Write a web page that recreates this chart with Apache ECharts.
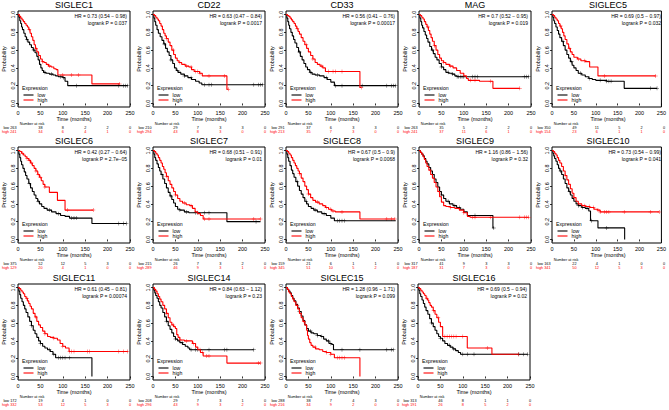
<!DOCTYPE html>
<html><head><meta charset="utf-8">
<script src="https://cdn.jsdelivr.net/npm/echarts@6/dist/echarts.min.js"></script>
<style>html,body{margin:0;padding:0;background:#fff}#c{width:669px;height:410px}</style>
</head><body><div id="c"></div>
<script>
const panelNames = ['SIGLEC1','CD22','CD33','MAG','SIGLEC5','SIGLEC6','SIGLEC7','SIGLEC8','SIGLEC9','SIGLEC10','SIGLEC11','SIGLEC14','SIGLEC15','SIGLEC16'];
const hrTexts = ['HR = 0.73 (0.54 − 0.98)','HR = 0.63 (0.47 − 0.84)','HR = 0.56 (0.41 − 0.76)','HR = 0.7 (0.52 − 0.95)','HR = 0.69 (0.5 − 0.97)','HR = 0.42 (0.27 − 0.64)','HR = 0.68 (0.51 − 0.91)','HR = 0.67 (0.5 − 0.9)','HR = 1.16 (0.86 − 1.56)','HR = 0.73 (0.54 − 0.99)','HR = 0.61 (0.45 − 0.81)','HR = 0.84 (0.63 − 1.12)','HR = 1.28 (0.96 − 1.71)','HR = 0.69 (0.5 − 0.94)'];
const pTexts = ['logrank P = 0.037','logrank P = 0.0017','logrank P = 0.00017','logrank P = 0.019','logrank P = 0.032','logrank P = 2.7e−05','logrank P = 0.01','logrank P = 0.0068','logrank P = 0.32','logrank P = 0.041','logrank P = 0.00074','logrank P = 0.23','logrank P = 0.099','logrank P = 0.02'];
const xTicks = [0,50,100,150,200,250];
const yTicks = [0,0.2,0.4,0.6,0.8,1.0];
const riskTimes = [0,50,100,150,200,250];
const lowAtRisk = [[263,38,8,2,2,0],[210,29,7,3,3,0],[291,37,6,3,3,0],[263,35,5,2,2,0],[350,49,11,5,2,0],[375,52,12,5,3,0],[215,26,7,3,2,0],[159,21,6,1,1,0],[317,41,9,3,3,0],[163,22,4,1,0,0],[172,19,4,1,0,0],[208,29,7,3,1,0],[288,38,7,4,3,0],[313,46,8,1,1,0]];
const highAtRisk = [[241,34,6,4,1,0],[294,43,8,3,0,0],[213,35,7,3,0,0],[241,37,11,6,1,0],[154,23,6,1,1,0],[129,20,4,1,0,0],[289,46,9,3,1,0],[345,51,10,5,2,0],[187,31,7,3,0,0],[341,50,12,5,3,0],[332,53,12,5,3,0],[296,43,9,3,2,0],[216,34,9,2,0,0],[191,26,8,5,2,0]];

const lowCurves = [
[[0,1],[2,0.97],[4,0.93],[6,0.9],[8,0.86],[10,0.83],[13,0.79],[16,0.75],[19,0.72],[22,0.69],[26,0.66],[30,0.63],[34,0.6],[38,0.57],[42,0.53],[45,0.49],[48,0.44],[51,0.4],[54,0.37],[57,0.35],[62,0.34],[70,0.33],[78,0.32],[84,0.31],[90,0.3],[100,0.29],[105,0.25],[111,0.2],[245,0.2]],
[[0,1],[2,0.96],[4,0.92],[6,0.88],[9,0.83],[12,0.79],[16,0.75],[20,0.71],[24,0.67],[28,0.62],[32,0.58],[36,0.54],[40,0.49],[44,0.45],[48,0.4],[52,0.37],[56,0.35],[62,0.33],[70,0.31],[78,0.29],[86,0.27],[95,0.25],[103,0.23],[109,0.21],[245,0.21]],
[[0,1],[2,0.96],[4,0.92],[6,0.88],[8,0.84],[11,0.8],[14,0.76],[17,0.72],[20,0.68],[24,0.63],[28,0.58],[32,0.53],[36,0.49],[40,0.45],[44,0.41],[48,0.38],[53,0.35],[58,0.33],[65,0.32],[75,0.31],[85,0.29],[92,0.27],[100,0.24],[108,0.2],[245,0.2]],
[[0,1],[2,0.96],[4,0.92],[6,0.88],[8,0.85],[11,0.81],[14,0.77],[17,0.73],[20,0.69],[24,0.64],[28,0.6],[32,0.56],[36,0.52],[40,0.49],[45,0.45],[50,0.41],[55,0.38],[60,0.35],[66,0.34],[74,0.33],[80,0.31],[85,0.3],[245,0.3]],
[[0,1],[2,0.97],[4,0.93],[6,0.9],[9,0.86],[12,0.82],[15,0.78],[18,0.74],[22,0.7],[26,0.65],[30,0.6],[34,0.55],[38,0.51],[42,0.47],[46,0.43],[50,0.4],[55,0.37],[60,0.34],[68,0.32],[76,0.3],[84,0.28],[92,0.27],[100,0.26],[125,0.25],[165,0.17],[240,0.17]],
[[0,1],[2,0.96],[4,0.92],[6,0.88],[8,0.84],[11,0.8],[14,0.76],[17,0.72],[20,0.68],[24,0.63],[28,0.58],[32,0.54],[36,0.5],[40,0.46],[44,0.43],[48,0.4],[53,0.37],[58,0.35],[65,0.33],[75,0.31],[85,0.29],[95,0.27],[105,0.26],[115,0.24],[165,0.18],[242,0.18]],
[[0,1],[2,0.96],[4,0.92],[6,0.89],[9,0.85],[12,0.81],[15,0.77],[18,0.73],[22,0.68],[26,0.63],[30,0.58],[34,0.53],[38,0.49],[42,0.45],[46,0.41],[50,0.37],[55,0.34],[60,0.33],[70,0.31],[80,0.3],[165,0.2],[240,0.2]],
[[0,1],[2,0.96],[4,0.92],[6,0.88],[9,0.83],[12,0.78],[15,0.74],[18,0.7],[22,0.65],[26,0.6],[30,0.55],[34,0.51],[38,0.47],[42,0.43],[46,0.4],[50,0.37],[56,0.35],[62,0.33],[70,0.31],[80,0.29],[90,0.27],[100,0.24],[108,0.21],[245,0.21]],
[[0,1],[3,0.98],[6,0.96],[9,0.94],[12,0.91],[15,0.88],[18,0.85],[22,0.81],[26,0.77],[30,0.73],[34,0.68],[38,0.64],[42,0.59],[46,0.54],[50,0.5],[55,0.46],[60,0.43],[68,0.4],[76,0.38],[84,0.36],[92,0.34],[100,0.31],[108,0.27],[165,0.13],[167,0.13]],
[[0,1],[2,0.97],[4,0.94],[6,0.91],[9,0.88],[12,0.84],[15,0.8],[18,0.77],[22,0.73],[26,0.68],[30,0.63],[34,0.58],[38,0.54],[42,0.5],[46,0.46],[50,0.43],[55,0.4],[60,0.38],[68,0.36],[76,0.35],[84,0.32],[88,0.21],[105,0.13],[166,0]],
[[0,1],[2,0.96],[4,0.92],[6,0.88],[9,0.84],[12,0.8],[15,0.76],[18,0.72],[22,0.67],[26,0.62],[30,0.57],[34,0.52],[38,0.48],[42,0.44],[46,0.4],[50,0.37],[55,0.34],[60,0.32],[66,0.3],[72,0.28],[78,0.25],[84,0.21],[165,0]],
[[0,1],[2,0.97],[4,0.94],[6,0.91],[9,0.88],[12,0.84],[15,0.8],[18,0.77],[22,0.72],[26,0.67],[30,0.62],[34,0.57],[38,0.53],[42,0.49],[46,0.45],[50,0.42],[55,0.4],[60,0.38],[66,0.36],[72,0.34],[78,0.32],[82,0.3],[225,0.3]],
[[0,1],[3,0.98],[6,0.96],[9,0.94],[12,0.91],[15,0.88],[18,0.85],[22,0.81],[26,0.77],[30,0.73],[34,0.68],[38,0.63],[42,0.58],[46,0.54],[50,0.51],[56,0.49],[62,0.48],[70,0.46],[78,0.45],[84,0.42],[90,0.4],[96,0.37],[102,0.36],[106,0.3],[240,0.3]],
[[0,1],[2,0.97],[4,0.93],[6,0.9],[9,0.86],[12,0.82],[15,0.78],[18,0.74],[22,0.7],[26,0.65],[30,0.6],[34,0.56],[38,0.52],[42,0.48],[46,0.45],[50,0.43],[55,0.4],[60,0.37],[66,0.35],[72,0.33],[78,0.31],[84,0.29],[90,0.27],[95,0.25],[245,0.25]]
];
const highCurves = [
[[0,1],[3,0.98],[6,0.96],[9,0.94],[12,0.92],[15,0.9],[18,0.88],[21,0.86],[24,0.83],[27,0.79],[30,0.75],[33,0.71],[36,0.66],[39,0.62],[42,0.58],[46,0.54],[50,0.5],[54,0.47],[58,0.46],[63,0.44],[68,0.42],[74,0.41],[80,0.39],[85,0.38],[89,0.32],[165,0.22],[227,0.22]],
[[0,1],[3,0.99],[6,0.97],[9,0.95],[12,0.93],[15,0.9],[18,0.87],[21,0.83],[24,0.79],[27,0.76],[30,0.73],[34,0.69],[38,0.65],[42,0.6],[46,0.55],[50,0.51],[54,0.48],[58,0.46],[64,0.44],[72,0.42],[80,0.41],[86,0.38],[92,0.36],[104,0.34],[110,0.31],[165,0.16],[168,0.16]],
[[0,1],[3,0.99],[6,0.98],[9,0.96],[12,0.94],[15,0.92],[18,0.9],[21,0.87],[24,0.84],[27,0.81],[30,0.78],[34,0.74],[38,0.7],[42,0.66],[46,0.62],[50,0.58],[55,0.54],[60,0.5],[65,0.46],[70,0.44],[76,0.42],[82,0.4],[88,0.36],[165,0.18],[168,0.18]],
[[0,1],[3,0.99],[6,0.97],[9,0.95],[12,0.92],[15,0.89],[18,0.86],[21,0.82],[24,0.78],[27,0.74],[30,0.7],[34,0.65],[38,0.6],[42,0.55],[46,0.51],[50,0.48],[55,0.46],[60,0.44],[68,0.42],[76,0.4],[84,0.37],[92,0.34],[100,0.31],[106,0.28],[110,0.26],[135,0.25],[165,0.17],[225,0.17]],
[[0,1],[3,0.99],[6,0.97],[9,0.95],[12,0.93],[15,0.9],[18,0.87],[21,0.84],[24,0.8],[27,0.76],[30,0.72],[34,0.67],[38,0.62],[42,0.58],[46,0.55],[50,0.52],[58,0.5],[66,0.48],[76,0.47],[86,0.41],[105,0.31],[237,0.31]],
[[0,1],[4,0.99],[8,0.97],[12,0.95],[16,0.93],[20,0.91],[24,0.89],[28,0.86],[32,0.83],[36,0.8],[40,0.77],[44,0.73],[48,0.7],[52,0.66],[56,0.62],[60,0.59],[70,0.53],[88,0.44],[105,0.33],[168,0.33]],
[[0,1],[3,0.99],[6,0.97],[9,0.95],[12,0.92],[15,0.89],[18,0.86],[21,0.82],[24,0.79],[27,0.75],[30,0.71],[34,0.66],[38,0.62],[42,0.58],[46,0.54],[50,0.5],[55,0.46],[60,0.43],[66,0.41],[74,0.39],[82,0.38],[88,0.35],[94,0.31],[100,0.29],[106,0.27],[112,0.23],[240,0.23]],
[[0,1],[3,0.99],[6,0.97],[9,0.95],[12,0.92],[15,0.89],[18,0.86],[21,0.83],[24,0.8],[27,0.77],[30,0.74],[34,0.69],[38,0.65],[42,0.6],[46,0.56],[50,0.51],[55,0.47],[60,0.44],[66,0.42],[74,0.4],[82,0.38],[88,0.36],[95,0.34],[102,0.32],[110,0.31],[165,0.23],[243,0.23]],
[[0,1],[3,0.98],[6,0.96],[9,0.93],[12,0.9],[15,0.86],[18,0.82],[22,0.78],[26,0.73],[30,0.69],[34,0.64],[38,0.59],[42,0.54],[46,0.48],[50,0.42],[55,0.38],[60,0.37],[70,0.36],[80,0.35],[90,0.33],[100,0.3],[108,0.26],[114,0.25],[245,0.25]],
[[0,1],[3,0.99],[6,0.97],[9,0.95],[12,0.92],[15,0.89],[18,0.86],[22,0.82],[26,0.77],[30,0.72],[34,0.67],[38,0.62],[42,0.57],[46,0.52],[50,0.47],[55,0.43],[60,0.4],[68,0.38],[76,0.37],[86,0.36],[96,0.34],[104,0.33],[110,0.31],[245,0.31]],
[[0,1],[3,0.99],[6,0.97],[9,0.95],[12,0.93],[15,0.9],[18,0.88],[21,0.85],[24,0.82],[27,0.79],[30,0.76],[34,0.71],[38,0.67],[42,0.62],[46,0.58],[50,0.55],[55,0.51],[60,0.48],[66,0.45],[72,0.44],[80,0.43],[88,0.41],[94,0.37],[100,0.34],[106,0.32],[114,0.28],[245,0.28]],
[[0,1],[3,0.98],[6,0.96],[9,0.93],[12,0.9],[15,0.87],[18,0.84],[22,0.8],[26,0.76],[30,0.71],[34,0.66],[38,0.61],[42,0.58],[46,0.56],[50,0.54],[53,0.47],[56,0.44],[60,0.41],[70,0.4],[80,0.4],[88,0.37],[95,0.33],[100,0.3],[106,0.27],[112,0.23],[165,0.15],[240,0.15]],
[[0,1],[3,0.98],[6,0.95],[9,0.93],[12,0.9],[15,0.87],[18,0.84],[22,0.8],[26,0.76],[30,0.71],[34,0.66],[38,0.62],[42,0.58],[46,0.52],[48,0.46],[50,0.42],[53,0.38],[56,0.35],[60,0.33],[66,0.31],[74,0.3],[82,0.28],[90,0.27],[100,0.25],[108,0.21],[165,0]],
[[0,1],[3,0.99],[6,0.97],[9,0.95],[12,0.93],[15,0.91],[18,0.88],[21,0.86],[24,0.83],[27,0.8],[30,0.78],[34,0.74],[38,0.7],[42,0.66],[46,0.61],[50,0.56],[55,0.45],[110,0.32],[165,0.25],[225,0.25]]
];
const lowCensor = [[20,35,60,75,95,101,130,225,235,240,245],[25,40,55,70,85,115,125,130,225,235,240,245],[30,55,70,90,110,125,170,225,235,240,245],[30,50,65,75,85,88,92,96,100,120,125,130,235,240,245],[25,45,65,85,110,125,130,135,225,240],[25,45,70,90,120,125,130,225,235,242],[20,40,60,75,95,100,115,125,230],[25,45,65,85,115,120,125,130],[30,50,65,80,90,125,167],[20,40,60,70,80,90,125],[30,50,70,80,90,95,100,105,115],[30,50,65,85,95,100,125,160,165,225],[30,55,70,80,95,100,125,165,225,235,240],[30,50,70,80,100,110,125,225,235,245]];
const highCensor = [[25,40,55,70,100,120,135,227],[30,45,60,75,85,95,100,105,125,160,168],[25,45,60,80,95,105,110,125,168],[20,35,55,70,115,125,160,225],[20,40,60,75,120,237],[10,20,25,30,40,45,50,60,110,168],[30,50,70,85,115,125,225,240],[30,50,70,90,100,105,125,225,235,243],[25,45,70,100,120,125,160,225,235,240,245],[30,50,75,85,95,105,110,120,125,130,165,225,245],[20,40,60,80,100,115,120,125,155,160,225,235,245],[30,45,60,75,90,105,110,120,125,235,240],[25,40,65,90,100,115,120,125,130],[20,35,45,60,65,70,75,80,85,100,155,225]];

const FONT = 'Liberation Sans, Arial, sans-serif';
const colX = [18,153,286,419,552];
const colX3 = [18,153,286,418];
const rowY = [11,147,284];
const W = 112, H = 96;
const BLACK = '#000000', RED = '#ff0000';
const PLUS = 'path://M-0.12,-1H0.12V-0.12H1V0.12H0.12V1H-0.12V0.12H-1V-0.12H-0.12Z';

function stepAt(curve, t){ let v = curve[0][1]; for (const p of curve){ if (p[0] <= t) v = p[1]; } return v; }

const grids=[], xAxes=[], yAxes=[], series=[], graphics=[];
panelNames.forEach((name,i)=>{
  const r = i<5?0:(i<10?1:2);
  const c = i<10 ? i%5 : i-10;
  const ox = (r<2?colX:colX3)[c], oy = rowY[r];
  grids.push({left:ox, top:oy, width:W, height:H, show:true, borderColor:'#000', borderWidth:1, backgroundColor:'transparent'});
  xAxes.push({gridIndex:i, type:'value', min:0, max:250, interval:50, axisLine:{show:false},
    axisTick:{show:true, length:2, lineStyle:{color:'#000', width:0.8}},
    axisLabel:{fontSize:5.5, margin:2.5, color:'#000', fontFamily:FONT, customValues:xTicks, showMinLabel:true, showMaxLabel:true},
    splitLine:{show:false}});
  yAxes.push({gridIndex:i, type:'value', min:-0.04, max:1.04, axisLine:{show:false},
    axisTick:{show:true, length:2, customValues:yTicks, lineStyle:{color:'#000', width:0.8}},
    axisLabel:{fontSize:5.5, margin:2.5, rotate:90, color:'#000', fontFamily:FONT, customValues:yTicks, formatter:v=>Number(v).toFixed(1)},
    splitLine:{show:false}});
  [[lowCurves[i],lowCensor[i],BLACK],[highCurves[i],highCensor[i],RED]].forEach(([cv,cens,col])=>{
    series.push({type:'line', xAxisIndex:i, yAxisIndex:i, step:'end', data:cv, showSymbol:false, symbol:'none',
      lineStyle:{color:col, width:1.1}, silent:true, animation:false});
    series.push({type:'scatter', xAxisIndex:i, yAxisIndex:i, data:cens.map(t=>[t, stepAt(cv,t)]),
      symbol:PLUS, symbolSize:4, itemStyle:{color:col}, silent:true, animation:false});
  });
  const T = (text,x,y,size,opt={})=>graphics.push(Object.assign({type:'text', x, y, silent:true,
    style:Object.assign({text, fontSize:size, fontFamily:FONT, fill:'#000', textAlign:'center', textVerticalAlign:'middle'}, opt.style||{})}, opt.el||{}));
  T(name, ox+W/2, oy-6.5, 9);
  T(hrTexts[i], ox+W-3, oy+4.5, 5, {style:{textAlign:'right'}});
  T(pTexts[i], ox+W-3, oy+11.5, 5, {style:{textAlign:'right'}});
  T('Probability', ox-14, oy+H/2, 5.5, {el:{rotation:Math.PI/2}});
  T('Time (months)', ox+W/2, oy+H+12, 5.5);
  T('Expression', ox+4, oy+77, 5.2, {style:{textAlign:'left'}});
  graphics.push({type:'line', silent:true, shape:{x1:ox+5.5,y1:oy+84,x2:ox+15.5,y2:oy+84}, style:{stroke:BLACK, lineWidth:1.1}});
  graphics.push({type:'line', silent:true, shape:{x1:ox+5.5,y1:oy+89,x2:ox+15.5,y2:oy+89}, style:{stroke:RED, lineWidth:1.1}});
  T('low', ox+19.5, oy+84, 5.2, {style:{textAlign:'left'}});
  T('high', ox+19.5, oy+89, 5.2, {style:{textAlign:'left'}});
  T('Number at risk', ox+14, oy+H+17, 3.8);
  riskTimes.forEach((t,k)=>{
    const x = ox + t/250*W;
    if (k===0){
      T('low '+lowAtRisk[i][k], ox-1.5, oy+H+20.5, 3.8, {style:{textAlign:'right'}});
      T('high '+highAtRisk[i][k], ox-1.5, oy+H+25, 3.8, {style:{textAlign:'right', fill:RED}});
    } else {
      T(String(lowAtRisk[i][k]), x, oy+H+20.5, 3.8);
      T(String(highAtRisk[i][k]), x, oy+H+25, 3.8, {style:{fill:RED}});
    }
  });
});

const chart = echarts.init(document.getElementById('c'), null, {renderer:'svg'});
chart.setOption({animation:false, backgroundColor:'#fff', grid:grids, xAxis:xAxes, yAxis:yAxes, series, graphic:graphics});
</script></body></html>
